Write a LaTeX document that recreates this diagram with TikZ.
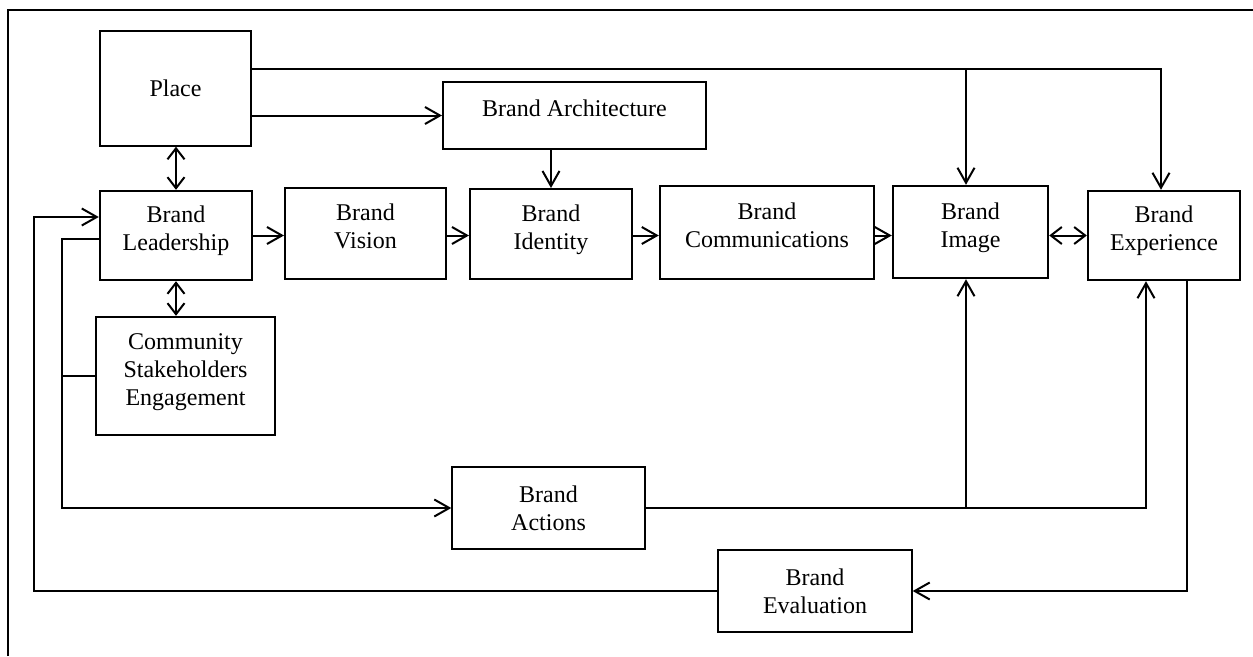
\documentclass[tikz,border=0pt]{standalone}
\usepackage{fontspec}
\setmainfont{Liberation Serif}
\usetikzlibrary{arrows.meta,calc}
\begin{document}
\begin{tikzpicture}[x=1pt,y=-1pt,
  box/.style={draw, line width=2pt, rectangle, align=center, inner sep=0pt,
    text depth=14pt, font=\fontsize{24}{28}\selectfont},
  thinbox/.style={box, line width=1.4pt, text depth=0pt},
  conn/.style={line width=2pt},
  tip/.tip={Straight Barb[length=15pt,width=17pt,line width=2pt]},
  stip/.tip={Straight Barb[length=11pt,width=17pt,line width=2pt]},
  arr/.style={conn, -tip},
  darr/.style={conn, stip-stip}
]
\useasboundingbox (0,0) rectangle (1253,656);
\draw[line width=2.8pt] (8,656) -- (8,10) -- (1253,10);

\node[thinbox, minimum width=151, minimum height=115] (Place) at (175.5,88.5) {Place};
\node[box, minimum width=263, minimum height=67] (Arch) at (574.5,115.5) {Brand Architecture};
\node[box, line width=2.4pt, minimum width=152, minimum height=89] (Lead) at (176,235.5) {Brand\\Leadership};
\node[box, minimum width=161, minimum height=91] (Vision) at (365.5,233.5) {Brand\\Vision};
\node[box, minimum width=162, minimum height=90] (Ident) at (551,234) {Brand\\Identity};
\node[box, line width=2.4pt, minimum width=214, minimum height=93] (Comm) at (767,232.5) {Brand\\Communications};
\node[box, line width=2.4pt, minimum width=155, minimum height=92] (Image) at (970.5,232) {Brand\\Image};
\node[box, line width=2.4pt, minimum width=152, minimum height=89] (Exp) at (1164,235.5) {Brand\\Experience};
\node[box, line width=2.4pt, minimum width=179, minimum height=118, text depth=12pt] (Comty) at (185.5,376) {Community\\Stakeholders\\Engagement};
\node[thinbox, minimum width=193, minimum height=82] (Act) at (548.5,508) {Brand\\Actions};
\node[thinbox, minimum width=194, minimum height=82] (Eval) at (815,591) {Brand\\Evaluation};

\coordinate (top) at (0,69);
\coordinate (xo) at (34,591);
\coordinate (xi) at (62,508);

% from Place
\draw[arr] (Place.east |- top) -| ([xshift=-3]Exp.north);
\draw[arr] ([xshift=-4.5]Image.north |- top) -- ([xshift=-4.5]Image.north);
\draw[arr] (Place.east |- Arch.west) -- (Arch.west);
\draw[arr] (Ident.north |- Arch.south) -- (Ident.north);
\draw[darr] (Place.south -| Lead.north) -- (Lead.north);

% main chain
\draw[arr] (Lead.east) -- (Lead.east -| Vision.west);
\draw[arr] (Lead.east -| Vision.east) -- (Lead.east -| Ident.west);
\draw[arr] (Lead.east -| Ident.east) -- (Lead.east -| Comm.west);
\draw[arr] (Lead.east -| Comm.east) -- (Lead.east -| Image.west);
\draw[darr] (Exp.west -| Image.east) -- (Exp.west);
\draw[darr] (Lead.south) -- (Lead.south |- Comty.north);

% left loops
\draw[arr] (Eval.west) -- (xo) |- ([yshift=18.5]Lead.west);
\draw[arr] ([yshift=-3.5]Lead.west) -| (xi) -- (Act.west);
\draw[conn] (Comty.west) -- (Comty.west -| xi);

% actions to image/experience
\draw[arr] (Act.east) -| ([xshift=-18]Exp.south);
\draw[arr] ([xshift=-4.5]Image.south |- Act.east) -- ([xshift=-4.5]Image.south);

% experience to evaluation
\draw[arr] ([xshift=23]Exp.south) |- (Eval.east);
\end{tikzpicture}
\end{document}
